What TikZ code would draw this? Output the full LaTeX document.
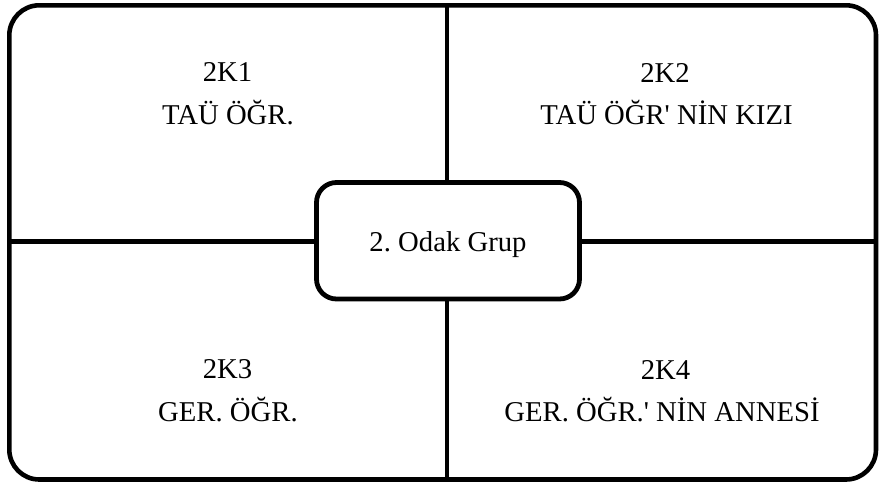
\documentclass[tikz,border=0pt]{standalone}
\usepackage{fontspec}
\setmainfont{Liberation Serif}
\frenchspacing
\begin{document}
\begin{tikzpicture}[x=1pt,y=-1pt,
  frame/.style={draw=black,line width=4.6pt,rounded corners=30pt,inner sep=0pt,outer sep=0pt},
  hubbox/.style={draw=black,fill=white,line width=4.8pt,rounded corners=20pt,inner sep=0pt,outer sep=0pt,
    minimum width=263pt,minimum height=116.5pt,text height=21.9pt,text depth=0pt,
    font=\fontsize{28.7}{34}\selectfont},
  divider/.style={draw=black,line width=4.6pt},
  lbl/.style={anchor=base,inner sep=0pt,font=\fontsize{28.7}{34}\selectfont}]
\useasboundingbox (0,0) rectangle (879,483);
\node[frame,minimum width=866.7pt,minimum height=474.2pt] (outer) at (442.65,242.4) {};
\coordinate (vtop) at (447,5.3);
\coordinate (vbot) at (447,479.5);
\coordinate (hleft) at (9.3,241.5);
\coordinate (hright) at (876,241.5);
\draw[divider] (vtop) -- (vbot);
\draw[divider] (hleft) -- (hright);
\node[hubbox] (odak) at (448,240.75) {2.\ Odak Grup};
\node[lbl] (k1a) at (227.5,81.7) {2K1};
\node[lbl] (k1b) at (228,124) {TAÜ ÖĞR.};
\node[lbl] (k2a) at (665,82) {2K2};
\node[lbl] (k2b) at (666.5,124) {TAÜ ÖĞR\textquotesingle{} NİN KIZI};
\node[lbl] (k3a) at (227.5,378.3) {2K3};
\node[lbl] (k3b) at (228,421) {GER. ÖĞR.};
\node[lbl] (k4a) at (665.5,379.3) {2K4};
\node[lbl] (k4b) at (662,421.7) {GER. ÖĞR.\textquotesingle{} NİN ANNESİ};
\end{tikzpicture}
\end{document}
